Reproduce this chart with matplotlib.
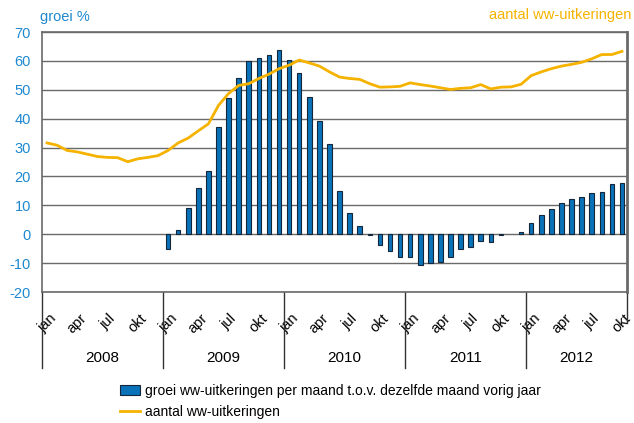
import matplotlib.pyplot as plt
import numpy as np
from matplotlib.patches import Patch
from matplotlib.lines import Line2D
from matplotlib.transforms import blended_transform_factory

plt.rcParams['font.family'] = ['Liberation Sans', 'DejaVu Sans']
plt.rcParams['axes.unicode_minus'] = False

# months jan 2008 .. okt 2012
years = ['2008', '2009', '2010', '2011', '2012']
months_per_year = [12, 12, 12, 12, 10]
month_names = ['jan', 'apr', 'jul', 'okt']

# groei ww-uitkeringen t.o.v. zelfde maand vorig jaar (%)
groei = [np.nan] * 12 + [
    -5.0, 1.5, 9.0, 16.0, 22.0, 37.0, 47.3, 54.1, 59.9, 60.9, 62.2, 63.6,
    60.3, 55.7, 47.5, 39.3, 31.3, 15.1, 7.4, 2.9, -0.2, -3.9, -5.7, -7.9,
    -8.0, -10.5, -9.8, -9.5, -7.9, -5.2, -4.3, -2.5, -2.7, -0.2, np.nan, 0.9,
    4.0, 6.5, 8.7, 10.8, 12.3, 12.8, 14.2, 14.7, 17.5, 17.9,
]

aantal = [
    31.6, 30.8, 29.0, 28.5, 27.7, 26.9, 26.6, 26.5, 25.1, 26.1, 26.6, 27.2,
    29.0, 31.6, 33.3, 35.8, 38.2, 44.6, 48.7, 51.5, 52.1, 53.9, 55.4, 57.3,
    58.5, 60.3, 59.3, 58.2, 56.2, 54.4, 53.9, 53.6, 52.1, 50.9, 51.0, 51.2,
    52.4, 51.8, 51.3, 50.7, 50.1, 50.5, 50.7, 51.8, 50.3, 50.9, 51.0, 51.9,
    54.9, 56.2, 57.3, 58.2, 58.8, 59.5, 60.7, 62.2, 62.2, 63.3,
]

blue = '#0a72b8'
orange = '#f5b300'
label_blue = '#1e88d0'
grey = '#6a6a6a'

x = np.arange(len(aantal))

fig = plt.figure(figsize=(6.34, 4.23), dpi=100)
ax = fig.add_axes([42/634, 1-292/423, 585/634, 260/423])

ax.bar(x, groei, width=0.45, color=blue, edgecolor='#14263a', linewidth=0.8, zorder=3)

ax.set_xlim(-0.5, len(aantal) - 0.5)
ax.set_ylim(-20, 70)
ax.set_yticks(range(-20, 71, 10))
ax.grid(axis='y', color=grey, linewidth=1, zorder=0)
ax.tick_params(axis='y', length=0, pad=8, labelsize=10.5, labelcolor=label_blue)

# month tick labels
ticks = []
labels = []
start = 0
for n in months_per_year:
    for k in range(0, n, 3):
        ticks.append(start + k)
        labels.append(month_names[k // 3])
    start += n
ax.set_xticks(ticks)
ax.set_xticklabels(labels, rotation=45, ha='center', va='top')
ax.tick_params(axis='x', length=0, pad=14, labelsize=10.5)

for side in ['left', 'top', 'bottom']:
    ax.spines[side].set_color(grey)
    ax.spines[side].set_linewidth(1.2)
ax.spines['right'].set_color(grey)
ax.spines['right'].set_linewidth(2)

# year labels and separators
trans = blended_transform_factory(ax.transData, ax.transAxes)
start = 0
for yr, n in zip(years, months_per_year):
    ax.plot([start - 0.5, start - 0.5], [0, -0.292], transform=trans,
            color='#333333', linewidth=1, clip_on=False)
    ax.text(start - 0.5 + n / 2, -0.254, yr, transform=trans,
            ha='center', va='center', fontsize=11)
    start += n
ax.plot([start - 0.5, start - 0.5], [0, -0.12], transform=trans,
        color='#333333', linewidth=1, clip_on=False)

ax2 = ax.twinx()
ax2.plot(x, aantal, color=orange, linewidth=2, zorder=4)
ax2.set_ylim(-20, 70)
ax2.set_yticks([])
for side in ax2.spines:
    ax2.spines[side].set_visible(False)

fig.text(40/634, 1-17/423, 'groei %', color=label_blue, fontsize=10.5, va='center', ha='left')
fig.text(631/634, 1-15/423, 'aantal ww-uitkeringen', color=orange, fontsize=10.5, va='center', ha='right')

handles = [
    Patch(facecolor=blue, edgecolor='#14263a', linewidth=0.8),
    Line2D([0], [0], color=orange, linewidth=2),
]
fig.legend(handles,
           ['groei ww-uitkeringen per maand t.o.v. dezelfde maand vorig jaar',
            'aantal ww-uitkeringen'],
           loc='upper left', bbox_to_anchor=(114/634, 1-378/423), frameon=False,
           fontsize=10, handlelength=1.5, handletextpad=0.3, labelspacing=0.55,
           borderaxespad=0)

fig.savefig('out.png', dpi=100)
